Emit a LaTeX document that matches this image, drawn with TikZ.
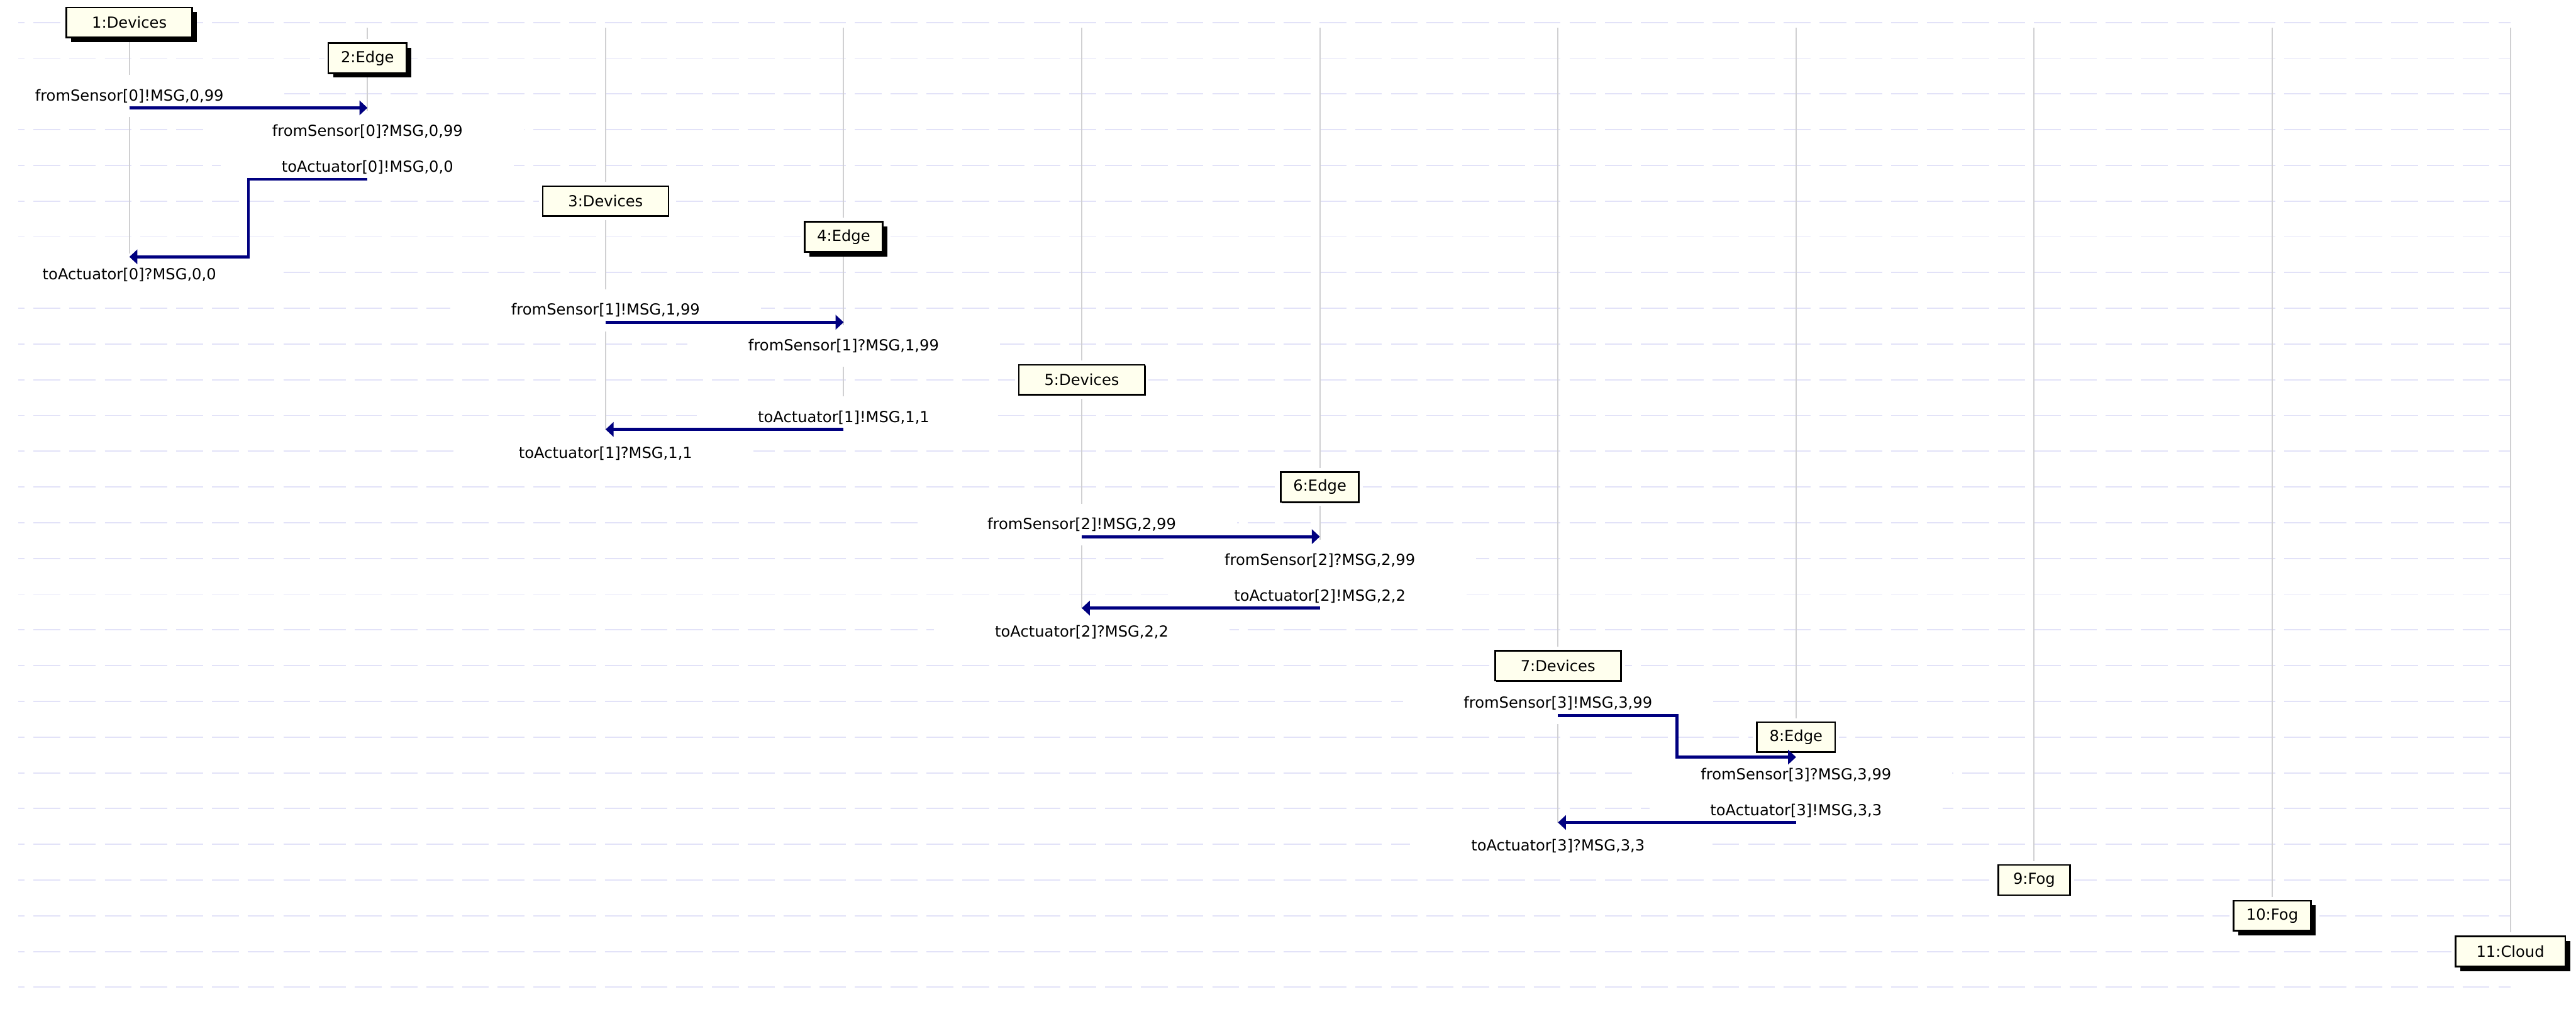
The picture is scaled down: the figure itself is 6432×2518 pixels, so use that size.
\documentclass[tikz,border=0pt]{standalone}
\usepackage{fontspec}
\setmainfont{DejaVu Sans}
\usetikzlibrary{arrows.meta,shadows,backgrounds}
\definecolor{gridc}{RGB}{226,226,248}
\definecolor{lifec}{RGB}{208,208,210}
\definecolor{msgc}{RGB}{0,0,128}
\definecolor{boxc}{RGB}{255,255,238}
\begin{document}
\begin{tikzpicture}[x=0.25pt,y=-0.25pt,
  gridline/.style={draw=gridc, line width=0.75pt, dash pattern=on 16.75pt off 5.55pt, dash phase=13pt},
  lifeline/.style={draw=lifec, line width=0.8pt},
  lbl/.style={fill=white, inner xsep=38pt, inner ysep=0pt, minimum height=26.1pt,
    font=\fontsize{9.5pt}{11pt}\selectfont, text=black},
  obj/.style={draw=black, line width=1pt, fill=boxc, minimum height=18.75pt, inner sep=0pt,
    font=\fontsize{9.5pt}{11pt}\selectfont, preaction={draw=white, line width=5pt}},
  bigshadow/.style={drop shadow={shadow xshift=3pt, shadow yshift=-2.8pt, opacity=1, fill=black}},
  smallshadow/.style={drop shadow={shadow xshift=0.6pt, shadow yshift=-0.6pt, opacity=1, fill=black}},
  msg/.style={draw=msgc, line width=1.9pt, -{Triangle[length=5pt,width=9pt]}},
]
\useasboundingbox (0,0) rectangle (6432,2518);
% lifeline tops
\coordinate (t1) at (323,13);
\coordinate (t2) at (917.5,69);
\coordinate (t3) at (1512,69);
\coordinate (t4) at (2106.5,69);
\coordinate (t5) at (2701,69);
\coordinate (t6) at (3295.5,69);
\coordinate (t7) at (3890,69);
\coordinate (t8) at (4484.5,69);
\coordinate (t9) at (5079,69);
\coordinate (t10) at (5673.5,69);
\coordinate (t11) at (6268,69);
% message end points
\coordinate (m0s) at (323,269.2);    \coordinate (m0e) at (917.5,269.2);
\coordinate (m1s) at (917.5,447.6);  \coordinate (m1k) at (620.25,641.2); \coordinate (m1e) at (323,641.2);
\coordinate (m2s) at (1512,804.4);   \coordinate (m2e) at (2106.5,804.4);
\coordinate (m3s) at (2106.5,1072);  \coordinate (m3e) at (1512,1072);
\coordinate (m4s) at (2701,1339.6);  \coordinate (m4e) at (3295.5,1339.6);
\coordinate (m5s) at (3295.5,1518);  \coordinate (m5e) at (2701,1518);
\coordinate (m6s) at (3890,1785.6);  \coordinate (m6k) at (4187.25,1890); \coordinate (m6e) at (4484.5,1890);
\coordinate (m7s) at (4484.5,2053.2);\coordinate (m7e) at (3890,2053.2);
% labels
\node[lbl] (l0s) at (323,239.4)    {fromSensor[0]!MSG,0,99};
\node[lbl] (l0r) at (917.5,328.6)  {fromSensor[0]?MSG,0,99};
\node[lbl] (l1s) at (917.5,417.8)  {toActuator[0]!MSG,0,0};
\node[lbl] (l1r) at (323,685.4)    {toActuator[0]?MSG,0,0};
\node[lbl] (l2s) at (1512,774.6)   {fromSensor[1]!MSG,1,99};
\node[lbl] (l2r) at (2106.5,863.8) {fromSensor[1]?MSG,1,99};
\node[lbl] (l3s) at (2106.5,1042.2){toActuator[1]!MSG,1,1};
\node[lbl] (l3r) at (1512,1131.4)  {toActuator[1]?MSG,1,1};
\node[lbl] (l4s) at (2701,1309.8)  {fromSensor[2]!MSG,2,99};
\node[lbl] (l4r) at (3295.5,1399)  {fromSensor[2]?MSG,2,99};
\node[lbl] (l5s) at (3295.5,1488.2){toActuator[2]!MSG,2,2};
\node[lbl] (l5r) at (2701,1577.4)  {toActuator[2]?MSG,2,2};
\node[lbl] (l6s) at (3890,1755.8)  {fromSensor[3]!MSG,3,99};
\node[lbl] (l6r) at (4484.5,1934.2){fromSensor[3]?MSG,3,99};
\node[lbl] (l7s) at (4484.5,2023.4){toActuator[3]!MSG,3,3};
\node[lbl] (l7r) at (3890,2112.6)  {toActuator[3]?MSG,3,3};
% objects
\node[obj,bigshadow,minimum width=78.5pt]    (b1)  at (323,56)      {1:Devices};
\node[obj,bigshadow,minimum width=48.75pt]   (b2)  at (917.5,145.2) {2:Edge};
\node[obj,smallshadow,minimum width=78.5pt]  (b3)  at (1512,502)    {3:Devices};
\node[obj,bigshadow,minimum width=48.75pt]   (b4)  at (2106.5,591.2){4:Edge};
\node[obj,smallshadow,minimum width=78.5pt]  (b5)  at (2701,948)    {5:Devices};
\node[obj,smallshadow,minimum width=48.75pt] (b6)  at (3295.5,1215.6){6:Edge};
\node[obj,smallshadow,minimum width=78.5pt]  (b7)  at (3890,1661.6) {7:Devices};
\node[obj,smallshadow,minimum width=48.75pt] (b8)  at (4484.5,1840) {8:Edge};
\node[obj,smallshadow,minimum width=44.75pt] (b9)  at (5079,2196.8) {9:Fog};
\node[obj,bigshadow,minimum width=48.25pt]   (b10) at (5673.5,2286) {10:Fog};
\node[obj,bigshadow,minimum width=68.5pt]    (b11) at (6268,2375.2) {11:Cloud};
% messages
\draw[msg] (m0s) -- (m0e);
\draw[msg] (m1s) -| (m1k) -- (m1e);
\draw[msg] (m2s) -- (m2e);
\draw[msg] (m3s) -- (m3e);
\draw[msg] (m4s) -- (m4e);
\draw[msg] (m5s) -- (m5e);
\draw[msg] (m6s) -| (m6k) -- (m6e);
\draw[msg] (m7s) -- (m7e);
% background: grid and lifelines
\begin{pgfonlayer}{background}
\fill[white] (0,0) rectangle (6432,2518);
\foreach \n in {0,...,27} \draw[gridline] (46,{56+89.2*\n}) -- (6268,{56+89.2*\n});
\draw[lifeline] (t1) -- (m1e);
\draw[lifeline] (t2) -- (m1s);
\draw[lifeline] (t3) -- (m3e);
\draw[lifeline] (t4) -- (m3s);
\draw[lifeline] (t5) -- (m5e);
\draw[lifeline] (t6) -- (m5s);
\draw[lifeline] (t7) -- (m7e);
\draw[lifeline] (t8) -- (m7s);
\draw[lifeline] (t9) -- (b9.north);
\draw[lifeline] (t10) -- (b10.north);
\draw[lifeline] (t11) -- (b11.north);
\end{pgfonlayer}
\end{tikzpicture}
\end{document}
